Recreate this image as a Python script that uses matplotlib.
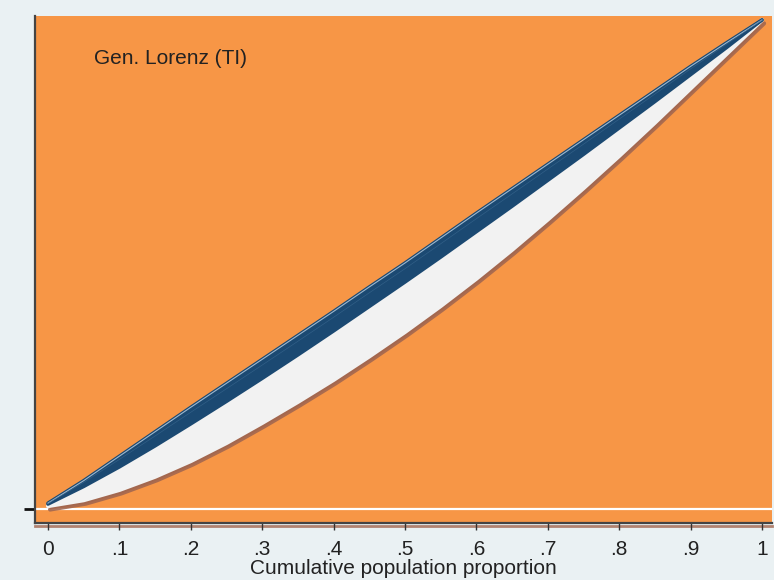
import numpy as np
import matplotlib
matplotlib.use("Agg")
import matplotlib.pyplot as plt
import matplotlib.patheffects as pe
from matplotlib.lines import Line2D
from matplotlib.transforms import ScaledTranslation

plt.rcParams['font.family'] = ['Liberation Sans', 'DejaVu Sans']

# cumulative population share
pop = [0.0, 0.05, 0.1, 0.15, 0.2, 0.25, 0.3, 0.35, 0.4, 0.45, 0.5,
       0.55, 0.6, 0.65, 0.7, 0.75, 0.8, 0.85, 0.9, 0.95, 1.0]
# upper edge of the dark band of curves
band_top = [0.012, 0.058, 0.108, 0.158, 0.208, 0.257, 0.306, 0.355, 0.404, 0.454, 0.503,
            0.554, 0.605, 0.655, 0.705, 0.755, 0.805, 0.855, 0.905, 0.953, 1.0]
# lower edge of the dark band
band_low = [0.010, 0.046, 0.086, 0.129, 0.174, 0.220, 0.267, 0.315, 0.364, 0.414, 0.464,
            0.515, 0.567, 0.619, 0.672, 0.725, 0.779, 0.833, 0.888, 0.943, 1.0]
# lowest curve (bottom of light area)
lower = [0.006, 0.018, 0.039, 0.066, 0.098, 0.135, 0.176, 0.219, 0.264, 0.312, 0.362,
         0.415, 0.471, 0.530, 0.592, 0.656, 0.722, 0.790, 0.860, 0.930, 1.0]

xticks = [0, 0.1, 0.2, 0.3, 0.4, 0.5, 0.6, 0.7, 0.8, 0.9, 1.0]
xtick_labels = ['0', '.1', '.2', '.3', '.4', '.5', '.6', '.7', '.8', '.9', '1']

bg = '#eaf1f3'
orange = '#f79646'
navy = '#1b4972'
light = '#f2f2f2'
shadow = '#a3674f'

fig = plt.figure(figsize=(7.74, 5.8), dpi=100, facecolor=bg)
ax = fig.add_axes([0.0452, 0.0983, 0.9522, 0.8741], facecolor=orange)

# y = 0 grid line
ax.axhline(0, color='white', lw=1.6, zorder=1)

# light area between lowest curve and the band, with a drop shadow
poly = ax.fill_between(pop, lower, band_low, color=light, lw=0, zorder=2)
poly.set_path_effects([pe.SimplePatchShadow(offset=(1.5, -2.5), shadow_rgbFace=shadow, alpha=0.9),
                       pe.Normal()])
ax.plot(pop, lower, color=light, lw=3, solid_capstyle='round', zorder=2,
        path_effects=[pe.SimpleLineShadow(offset=(1.5, -2.5), shadow_color=shadow, alpha=0.9),
                      pe.Normal()])

# dark band of many curves
ax.fill_between(pop, band_low, band_top, color=navy, lw=0, zorder=3)
ax.plot(pop, band_low, color=navy, lw=2.5, solid_capstyle='round', zorder=3)
ax.plot(pop, band_top, color=navy, lw=2.5, solid_capstyle='round', zorder=3)
ax.plot(pop, band_top, color='#9db8cf', lw=0.8, zorder=4)
mid = [t - 0.3 * (t - b) for t, b in zip(band_top, band_low)]
ax.plot(pop, mid, color='#3a6890', lw=0.5, alpha=0.7, zorder=4)

ax.text(0.065, 0.922, 'Gen. Lorenz (TI)', fontsize=15, color='#222222',
        ha='left', va='center')

ax.set_xlim(-0.0182, 1.014)
ax.set_ylim(-0.0286, 1.008)
ax.set_xticks(xticks)
ax.set_xticklabels(xtick_labels, fontsize=15, color='#222222')
ax.set_yticks([0])
ax.set_yticklabels([''])
ax.tick_params(axis='x', length=5, width=1, color='#333333', pad=7)
ax.tick_params(axis='y', length=8, width=2, color='#111111')
ax.set_xlabel('Cumulative population proportion', fontsize=15, color='#222222', labelpad=0)

for s in ['top', 'right']:
    ax.spines[s].set_visible(False)
for s in ['left', 'bottom']:
    ax.spines[s].set_color('#444444')
    ax.spines[s].set_linewidth(1.6)

# shadow under the x axis line
off = ScaledTranslation(0, -3 / 100, fig.dpi_scale_trans)
fig.add_artist(Line2D([0, 1], [0, 0], transform=ax.transAxes + off,
                      color=shadow, lw=2, alpha=0.8, clip_on=False, zorder=0))

fig.savefig('out.png', dpi=100, facecolor=bg)
